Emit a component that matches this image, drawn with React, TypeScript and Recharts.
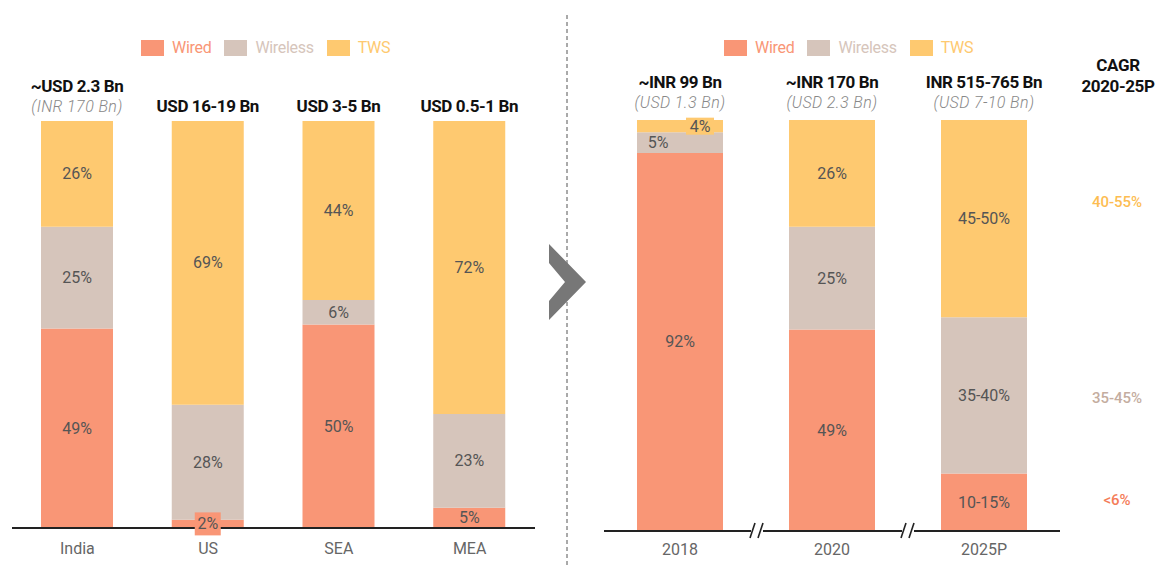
import { Bar, BarChart, LabelList, Legend, XAxis, YAxis } from "recharts"

const FONT = "Roboto, 'Noto Sans', sans-serif"

const WIRED = "#f99676"
const WIRELESS = "#d6c5bb"
const TWS = "#fec970"

// left panel: market split by region
const regions = ["India", "US", "SEA", "MEA"]
const regionWired = [49, 2, 50, 5]
const regionWireless = [25, 28, 6, 23]
const regionTws = [26, 69, 44, 72]
const regionTitles = ["~USD 2.3 Bn", "USD 16-19 Bn", "USD 3-5 Bn", "USD 0.5-1 Bn"]
const regionSubtitles = ["(INR 170 Bn)", "", "", ""]

// right panel: India over time
const years = ["2018", "2020", "2025P"]
const yearWired = [92, 49, 14]
const yearWireless = [5, 25, 38]
const yearTws = [3, 26, 48]
const yearWiredLabels = ["92%", "49%", "10-15%"]
const yearWirelessLabels = ["5%", "25%", "35-40%"]
const yearTwsLabels = ["4%", "26%", "45-50%"]
const yearTitles = ["~INR 99 Bn", "~INR 170 Bn", "INR 515-765 Bn"]
const yearSubtitles = ["(USD 1.3 Bn)", "(USD 2.3 Bn)", "(USD 7-10 Bn)"]
const cagrWired = "<6%"
const cagrWireless = "35-45%"
const cagrTws = "40-55%"

const seriesNames = ["Wired", "Wireless", "TWS"]

const regionData = regions.map((name, i) => ({
  name,
  wired: regionWired[i],
  wireless: regionWireless[i],
  tws: regionTws[i],
}))

const yearData = years.map((name, i) => ({
  name,
  wired: yearWired[i],
  wireless: yearWireless[i],
  tws: yearTws[i],
}))

const pct = (arr: number[]) => arr.map((v) => `${v}%`)

type Nudge = { dx: number; box?: [number, number] }

const segment =
  (labels: string[], fill: string, nudge: Record<number, Nudge> = {}) =>
  (props: any) => {
    const vb = props.viewBox ?? props
    const { x, y, width, height } = vb
    const i = props.index
    const text = labels[i]
    if (!text) return null
    const n = nudge[i] ?? { dx: 0 }
    const cx = x + width / 2 + n.dx
    const cy = y + height / 2
    return (
      <g>
        {n.box && <rect x={cx - n.box[0] / 2} y={cy - n.box[1] / 2} width={n.box[0]} height={n.box[1]} fill={fill} />}
        <text x={cx} y={cy} textAnchor="middle" dominantBaseline="central" fill="#555" fontSize={16} fontFamily={FONT}>
          {text}
        </text>
      </g>
    )
  }

const titles =
  (main: string[], sub: string[], gap: [number, number, number]) =>
  (props: any) => {
    const vb = props.viewBox ?? props
    const { x, y, width } = vb
    const i = props.index
    const cx = x + width / 2
    const hasSub = !!sub[i]
    return (
      <g fontFamily={FONT}>
        <text x={cx} y={y - (hasSub ? gap[0] : gap[2])} textAnchor="middle" dominantBaseline="central" fontSize={17} fontWeight={700} fill="#111" letterSpacing={-0.4}>
          {main[i]}
        </text>
        {hasSub && (
          <text x={cx} y={y - gap[1]} textAnchor="middle" dominantBaseline="central" fontSize={16} fontStyle="italic" fontWeight={300} fill="#888" letterSpacing={0.4}>
            {sub[i]}
          </text>
        )}
      </g>
    )
  }

const cagr = (text: string, color: string, dy: number) => (props: any) => {
  const vb = props.viewBox ?? props
  const { x, y, width, height } = vb
  if (props.index !== years.length - 1) return null
  return (
    <text x={x + width + 90} y={y + height / 2 + dy} textAnchor="middle" dominantBaseline="central" fontSize={15} fontWeight={500} fill={color} fontFamily={FONT}>
      {text}
    </text>
  )
}

const legendContent = (props: any) => {
  const items = [...(props.payload ?? [])].sort((a: any, b: any) => seriesNames.indexOf(a.value) - seriesNames.indexOf(b.value))
  return (
    <div style={{ display: "flex", alignItems: "center", fontFamily: FONT, fontSize: 16 }}>
      {items.map((p: any) => (
        <div key={p.value} style={{ display: "flex", alignItems: "center", marginRight: 13 }}>
          <span style={{ display: "inline-block", width: 23, height: 16, background: p.color, marginRight: 8 }} />
          <span style={{ color: p.color, letterSpacing: -0.3 }}>{p.value}</span>
        </div>
      ))}
    </div>
  )
}

const tickStyle = { fill: "#666", fontSize: 16, fontFamily: FONT }

export default function App() {
  return (
    <div style={{ position: "absolute", left: 0, top: 0, width: 1158, height: 565, background: "#fff" }}>
      <div style={{ position: "absolute", left: 0, top: 0 }}>
        <BarChart width={1158} height={565} data={regionData} stackOffset="expand" margin={{ top: 121, right: 623, bottom: 7, left: 12 }}>
          <XAxis dataKey="name" height={30} interval={0} tickLine={false} axisLine={{ stroke: "#222", strokeWidth: 2 }} tick={tickStyle} tickMargin={9} />
          <YAxis hide type="number" domain={[0, 1]} />
          <Legend verticalAlign="middle" align="center" layout="horizontal" content={legendContent} wrapperStyle={{ top: 38, left: 141, width: 320, height: 16 }} />
          <Bar dataKey="wired" name={seriesNames[0]} stackId="a" fill={WIRED} barSize={72} isAnimationActive={false}>
            <LabelList content={segment(pct(regionWired), WIRED, { 1: { dx: 0, box: [26, 23] } })} />
          </Bar>
          <Bar dataKey="wireless" name={seriesNames[1]} stackId="a" fill={WIRELESS} barSize={72} isAnimationActive={false}>
            <LabelList content={segment(pct(regionWireless), WIRELESS)} />
          </Bar>
          <Bar dataKey="tws" name={seriesNames[2]} stackId="a" fill={TWS} barSize={72} isAnimationActive={false}>
            <LabelList content={segment(pct(regionTws), TWS)} />
            <LabelList content={titles(regionTitles, regionSubtitles, [35, 15, 15])} />
          </Bar>
        </BarChart>
      </div>
      <div style={{ position: "absolute", left: 0, top: 0 }}>
        <BarChart width={1158} height={565} data={yearData} stackOffset="expand" margin={{ top: 120, right: 98, bottom: 4, left: 604 }}>
          <XAxis dataKey="name" height={30} interval={0} tickLine={false} axisLine={{ stroke: "#222", strokeWidth: 2 }} tick={tickStyle} tickMargin={7} />
          <YAxis hide type="number" domain={[0, 1]} />
          <Legend verticalAlign="middle" align="center" layout="horizontal" content={legendContent} wrapperStyle={{ top: 38, left: 724, width: 320, height: 16 }} />
          <Bar dataKey="wired" name={seriesNames[0]} stackId="a" fill={WIRED} barSize={86} isAnimationActive={false}>
            <LabelList content={segment(yearWiredLabels, WIRED)} />
            <LabelList content={cagr(cagrWired, "#f47c58", -2)} />
          </Bar>
          <Bar dataKey="wireless" name={seriesNames[1]} stackId="a" fill={WIRELESS} barSize={86} isAnimationActive={false}>
            <LabelList content={segment(yearWirelessLabels, WIRELESS, { 0: { dx: -22 } })} />
            <LabelList content={cagr(cagrWireless, "#c4ad9f", 3)} />
          </Bar>
          <Bar dataKey="tws" name={seriesNames[2]} stackId="a" fill={TWS} barSize={86} isAnimationActive={false}>
            <LabelList content={segment(yearTwsLabels, TWS, { 0: { dx: 20, box: [28, 17] } })} />
            <LabelList content={cagr(cagrTws, "#fdbd52", -17)} />
            <LabelList content={titles(yearTitles, yearSubtitles, [38, 18, 18])} />
          </Bar>
        </BarChart>
      </div>
      <div style={{ position: "absolute", left: 1078, top: 55, width: 80, textAlign: "center", fontFamily: FONT, fontSize: 17, fontWeight: 700, lineHeight: "21px", color: "#111", letterSpacing: -0.4 }}>
        CAGR
        <br />
        2020-25P
      </div>
      <svg width={1158} height={565} style={{ position: "absolute", left: 0, top: 0, pointerEvents: "none" }}>
        <line x1={567} y1={15} x2={567} y2={565} stroke="#555" strokeWidth={1} strokeDasharray="4 3" />
        <polygon points="549,244 586,282 549,320 549,301 565,282 549,263" fill="#777" />
        {[757, 908].map((bx) => (
          <g key={bx}>
            <rect x={bx - 6} y={528} width={12} height={6} fill="#fff" />
            <line x1={bx - 7} y1={538} x2={bx - 2} y2={523} stroke="#222" strokeWidth={1.6} />
            <line x1={bx + 1} y1={538} x2={bx + 6} y2={523} stroke="#222" strokeWidth={1.6} />
          </g>
        ))}
      </svg>
    </div>
  )
}
